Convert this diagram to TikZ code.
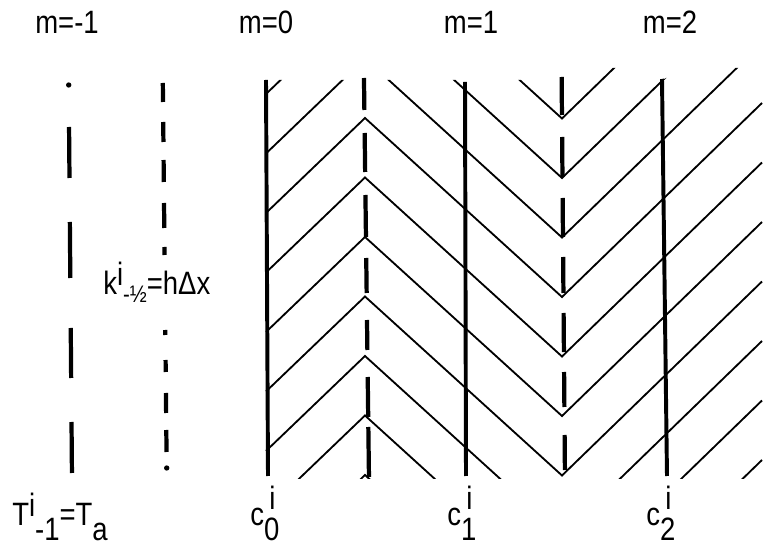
\documentclass[tikz,border=0pt]{standalone}
\usepackage{fontspec}
\setmainfont[FakeStretch=0.85]{Liberation Sans}
\newcommand\lab{\fontsize{23}{26}\selectfont}
\newcommand\sublab{\fontsize{17}{19}\selectfont}

\begin{document}
\begin{tikzpicture}[x=0.025cm, y=-0.025cm, every node/.style={font=\lab, inner sep=0pt},
  nd/.style={line width=2.8pt},
  dsh/.style={line width=3pt},
  hl/.style={line width=1.3pt}]
\useasboundingbox (0,0) rectangle (772,550);

% zigzag hatching between c0 and the right edge
\begin{scope}
\clip (263,80) -- (590,80) -- (612,68) -- (645,68) -- (664,79) -- (690,68) -- (766,68) -- (766,479) -- (263,479) -- cycle;
\foreach \k in {-4,...,7}{
  \pgfmathsetmacro\a{118+59.5*\k}
  \draw[hl] (266,\a+95) -- (365,\a) -- (562,\a+179) -- (762,\a-15);
}
\end{scope}

% node lines c0, c1, c2
\draw[nd] (266,80) -- (268,476);
\draw[nd] (465,82) -- (466,476);
\draw[nd] (662,79) -- (667,476);

% dashed half-way lines
\foreach \p/\q in {78/110,133/172,195/237,258/293,320/350,377/417,427/477}
  \draw[dsh] (363+\p/80,\p) -- (363+\q/80,\q);
\foreach \p/\q in {77/115,137/177,198/237,257/293,313/352,372/407,435/470}
  \draw[dsh] (561+\p/120,\p) -- (561+\q/120,\q);
\foreach \p/\q in {83/102,122/142,160/182,203/228,247/255,330/335,360/372,393/413,430/452}
  \draw[dsh] (162+\p/100,\p) -- (162+\q/100,\q);
\fill (166.7,468) circle[radius=1.9pt];

% ambient line m=-1
\fill (68.7,85) circle[radius=1.9pt];
\foreach \p/\q in {127/178,222/278,328/378,422/473}
  \draw[dsh] (68+\p/120,\p) -- (68+\q/120,\q);

% labels
\node[anchor=base] (mneg) at (67,34) {m=-1};
\node[anchor=base] (mzero) at (266,34) {m=0};
\node[anchor=base] (mone) at (471,34) {m=1};
\node[anchor=base] (mtwo) at (670,34) {m=2};

\node[anchor=base west] (kbnd) at (103,295) {k\raisebox{7pt}{i}\raisebox{-5pt}{\sublab -½}=hΔx};

\node[anchor=base west] (tamb) at (12,526) {T\raisebox{7pt}{i}\raisebox{-10pt}{-1}=T\raisebox{-10pt}{a}};
\node[anchor=base west] (czero) at (250,526) {c\rlap{\raisebox{12pt}{\,i}}\raisebox{-10pt}{0}};
\node[anchor=base west] (cone) at (447,526) {c\rlap{\raisebox{12pt}{\,i}}\raisebox{-10pt}{1}};
\node[anchor=base west] (ctwo) at (646,526) {c\rlap{\raisebox{12pt}{\,i}}\raisebox{-10pt}{2}};
\end{tikzpicture}
\end{document}
